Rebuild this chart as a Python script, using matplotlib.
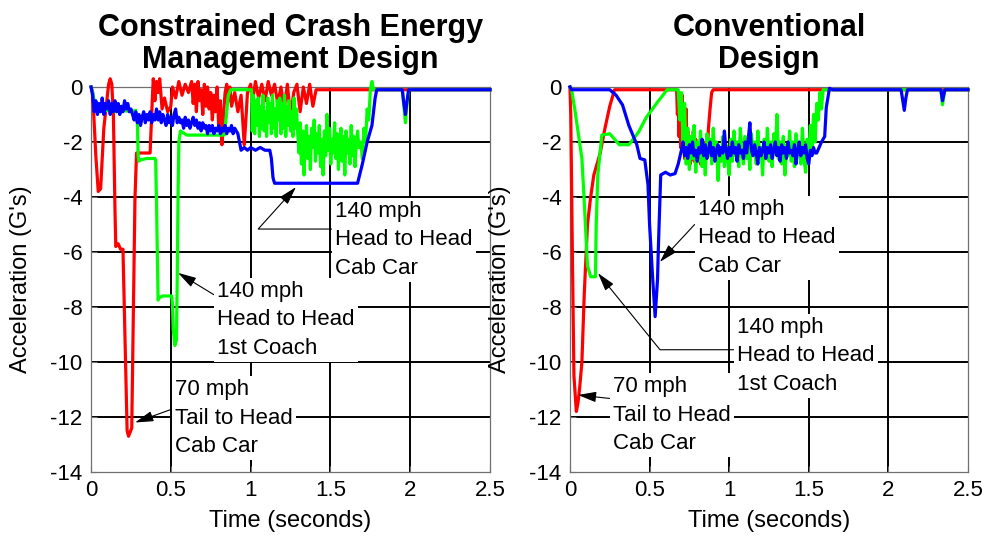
import matplotlib
matplotlib.use("Agg")
import matplotlib.pyplot as plt

plt.rcParams['font.family'] = ['Liberation Sans', 'DejaVu Sans']
plt.rcParams['axes.unicode_minus'] = False

# ---- data: (time s, acceleration G) ----
x_ticks = [0, 0.5, 1, 1.5, 2, 2.5]
x_tick_labels = ["0", "0.5", "1", "1.5", "2", "2.5"]
y_ticks = [0, -2, -4, -6, -8, -10, -12, -14]

# Constrained crash energy management design
cem_red_70 = [
    (0, 0), (0.01, -0.2), (0.03, -2.5), (0.045, -3.8), (0.06, -3.7), (0.08, -1.5),
    (0.11, 0.1), (0.12, 0.3), (0.13, 0.1), (0.14, -1.0), (0.15, -4.5), (0.155, -5.8),
    (0.17, -5.7), (0.185, -5.9), (0.2, -5.9), (0.226, -12.5), (0.235, -12.7),
    (0.255, -12.4), (0.275, -4.1), (0.285, -2.4), (0.33, -2.4), (0.37, -2.4),
    (0.385, -0.3), (0.39, 0.3), (0.4, -0.5), (0.41, 0.2), (0.42, -0.2), (0.43, 0.3),
    (0.445, -0.8), (0.46, -0.4), (0.48, -0.9), (0.5, -0.7), (0.51, 0.0), (0.53, -0.4),
    (0.55, 0.2), (0.57, -0.3), (0.59, 0.1), (0.61, -0.2), (0.63, 0.2), (0.64, -0.6),
    (0.65, 0.1), (0.66, -0.9), (0.67, 0.2), (0.68, -0.5), (0.69, -0.1), (0.70, -1.0),
    (0.71, 0.1), (0.72, -0.7), (0.73, 0.0), (0.74, -0.8), (0.75, -0.2), (0.76, -1.2),
    (0.77, -0.3), (0.78, -0.9), (0.79, 0.0), (0.80, -1.5), (0.81, -0.5), (0.82, -2.1),
    (0.83, -1.0), (0.84, -0.2), (0.85, 0.1), (0.86, -0.5), (0.87, 0.0), (0.88, -0.7),
    (0.9, -0.2), (0.92, -0.9), (0.94, -0.3), (0.96, -2.1), (0.97, -1.2), (0.98, -0.2),
    (1.0, 0.1), (1.01, -0.6), (1.03, 0.2), (1.05, -0.4), (1.07, 0.1), (1.09, -0.5),
    (1.11, 0.2), (1.13, -0.3), (1.15, 0.1), (1.17, -0.6), (1.19, 0.0), (1.21, -0.8),
    (1.23, 0.1), (1.25, -1.1), (1.27, -0.2), (1.29, 0.1), (1.31, -0.9), (1.33, 0.0),
    (1.35, -0.6), (1.37, 0.1), (1.39, -0.7), (1.41, -0.1), (1.43, -0.1), (2.5, -0.1),
]
cem_green_140 = [
    (0, 0), (0.01, -0.2), (0.03, -0.8), (0.05, -0.9), (0.1, -0.85), (0.15, -0.9),
    (0.2, -0.85), (0.25, -0.9), (0.28, -0.85), (0.29, -1.2), (0.295, -2.5), (0.3, -2.7),
    (0.31, -2.65), (0.35, -2.6), (0.4, -2.6), (0.405, -2.65), (0.41, -4.2), (0.42, -7.75),
    (0.43, -7.65), (0.45, -7.6), (0.48, -7.6), (0.505, -7.6), (0.51, -7.9), (0.515, -8.8),
    (0.525, -9.4), (0.535, -9.2), (0.54, -7.0), (0.545, -4.0), (0.55, -2.0), (0.56, -1.6),
    (0.6, -1.75), (0.7, -1.75), (0.8, -1.75), (0.835, -1.75), (0.845, -1.2), (0.86, -0.3),
    (0.875, -0.1), (0.95, -0.1), (1.005, -0.1),
    (1.010, -1.6), (1.017, -0.3), (1.025, -1.7), (1.032, -0.5), (1.040, -1.4), (1.047, -0.4),
    (1.055, -1.8), (1.062, -0.7), (1.070, -1.5), (1.077, -0.3), (1.085, -1.6), (1.092, -0.9),
    (1.100, -1.8), (1.107, -0.4), (1.115, -1.3), (1.122, -0.6), (1.130, -1.7), (1.137, -0.3),
    (1.145, -1.5), (1.152, -0.8), (1.160, -1.8), (1.167, -0.5), (1.175, -1.2), (1.182, -0.4),
    (1.190, -1.7), (1.197, -0.6), (1.205, -1.5), (1.212, -0.3), (1.220, -1.8), (1.227, -0.7),
    (1.235, -1.4), (1.242, -0.5), (1.250, -1.6), (1.257, -0.9), (1.265, -1.8), (1.272, -0.4),
    (1.280, -1.5), (1.287, -0.8), (1.295, -1.7),
    (1.303, -2.4), (1.310, -1.3), (1.318, -2.8), (1.326, -1.6), (1.334, -3.2), (1.342, -2.0),
    (1.350, -1.4), (1.358, -2.6), (1.366, -1.8), (1.374, -3.0), (1.382, -1.5), (1.390, -2.2),
    (1.398, -1.2), (1.406, -2.7), (1.414, -1.7), (1.422, -2.4), (1.430, -1.4), (1.438, -2.9),
    (1.446, -1.9), (1.454, -3.2), (1.462, -1.6), (1.470, -2.5), (1.478, -1.0), (1.486, -2.3),
    (1.494, -1.5), (1.502, -2.8), (1.510, -1.9), (1.518, -2.4), (1.526, -1.3), (1.534, -2.6),
    (1.542, -1.7), (1.550, -3.0), (1.558, -2.0), (1.566, -1.5), (1.574, -2.7), (1.582, -1.8),
    (1.590, -3.2), (1.598, -1.6), (1.606, -2.4), (1.614, -1.9), (1.622, -2.8), (1.630, -1.4),
    (1.638, -2.5), (1.646, -1.8), (1.654, -2.9), (1.662, -2.0), (1.670, -1.6), (1.678, -2.2),
    (1.69, -2.0), (1.70, -2.6), (1.71, -1.5), (1.72, -2.0), (1.73, -0.8), (1.74, -1.2),
    (1.75, -0.1), (1.76, 0.2), (1.77, -0.1), (1.95, -0.1), (1.96, -0.7), (1.97, -1.3),
    (1.98, -0.6), (1.99, -0.1), (2.5, -0.1),
]
cem_blue_140 = [
    (0, 0), (0.01, -0.3), (0.02, -0.9), (0.03, -0.5), (0.04, -1.0), (0.05, -0.6),
    (0.06, -0.9), (0.07, -0.4), (0.08, -1.0), (0.09, -0.6), (0.1, -0.8), (0.11, -0.5),
    (0.12, -1.0), (0.13, -0.6), (0.14, -0.9), (0.15, -0.5), (0.16, -0.9), (0.17, -0.6),
    (0.18, -1.0), (0.19, -0.7), (0.2, -0.9), (0.21, -0.5), (0.22, -0.8), (0.23, -0.6),
    (0.24, -0.9), (0.25, -0.8), (0.26, -1.0), (0.27, -1.2), (0.28, -0.9), (0.29, -1.3),
    (0.3, -1.0), (0.31, -1.4), (0.32, -1.1), (0.33, -0.9), (0.34, -1.3), (0.35, -1.0),
    (0.36, -1.2), (0.37, -0.9), (0.38, -1.3), (0.39, -1.0), (0.4, -1.2), (0.41, -0.8),
    (0.42, -1.2), (0.43, -0.9), (0.44, -1.3), (0.45, -1.0), (0.46, -1.2), (0.47, -1.4),
    (0.48, -1.0), (0.49, -1.3), (0.5, -1.1), (0.51, -1.4), (0.52, -1.0), (0.53, -0.8),
    (0.54, -1.3), (0.55, -1.1), (0.56, -1.3), (0.57, -1.2), (0.58, -1.5), (0.59, -1.1),
    (0.6, -1.4), (0.61, -1.2), (0.62, -1.5), (0.63, -1.3), (0.64, -1.1), (0.65, -1.4),
    (0.66, -1.2), (0.67, -1.5), (0.68, -1.3), (0.69, -1.6), (0.7, -1.3), (0.71, -1.5),
    (0.72, -1.4), (0.73, -1.7), (0.74, -1.4), (0.75, -1.6), (0.76, -1.4), (0.77, -1.7),
    (0.78, -1.5), (0.79, -1.6), (0.8, -1.4), (0.81, -1.7), (0.82, -1.5), (0.83, -1.6),
    (0.84, -1.4), (0.85, -1.7), (0.86, -1.5), (0.87, -1.6), (0.88, -1.4), (0.89, -1.7),
    (0.9, -1.5), (0.92, -1.7), (0.93, -2.0), (0.94, -2.3), (0.96, -2.2), (0.98, -2.3),
    (1.0, -2.2), (1.03, -2.3), (1.06, -2.2), (1.09, -2.3), (1.12, -2.3), (1.13, -2.6),
    (1.14, -3.3), (1.15, -3.5), (1.4, -3.5), (1.67, -3.5), (1.7, -2.8), (1.73, -2.0),
    (1.76, -1.4), (1.78, -0.4), (1.79, -0.1), (1.95, -0.1), (1.96, -0.6), (1.97, -1.0),
    (1.98, -0.5), (1.99, -0.1), (2.5, -0.1),
]

# Conventional design
conv_red_70 = [
    (0, 0), (0.005, -1.0), (0.015, -6.0), (0.025, -10.5), (0.04, -11.8), (0.05, -11.5),
    (0.06, -11.0), (0.075, -10.0), (0.09, -7.5), (0.11, -5.0), (0.13, -4.0), (0.15, -3.2),
    (0.19, -2.4), (0.22, -1.5), (0.25, -0.7), (0.28, -0.1), (0.67, -0.1), (0.675, -1.0),
    (0.68, -0.2), (0.685, -1.8), (0.69, -0.6), (0.695, -2.2), (0.70, -1.0), (0.705, -0.3),
    (0.71, -2.0), (0.715, -1.2), (0.72, -2.6), (0.725, -1.5), (0.73, -0.8), (0.735, -2.2),
    (0.74, -1.6), (0.745, -2.5), (0.75, -1.8), (0.755, -2.8), (0.76, -2.0), (0.77, -2.4),
    (0.775, -1.6), (0.78, -2.7), (0.79, -1.9), (0.80, -2.5), (0.81, -2.1), (0.82, -2.8),
    (0.825, -2.0), (0.83, -2.6), (0.84, -2.3), (0.85, -2.0), (0.86, -2.6), (0.87, -1.5),
    (0.88, -0.8), (0.89, -0.2), (0.9, -0.1), (2.5, -0.1),
]
conv_green_140 = [
    (0, 0), (0.01, -0.1), (0.03, -0.8), (0.06, -2.0), (0.075, -2.6), (0.09, -4.2),
    (0.11, -6.5), (0.13, -6.9), (0.16, -6.9), (0.165, -5.0), (0.175, -3.2), (0.2, -1.75),
    (0.25, -1.7), (0.31, -2.1), (0.37, -2.1), (0.43, -1.65), (0.48, -1.1), (0.55, -0.55),
    (0.61, -0.1), (0.68, -0.1),
    (0.69, -1.2), (0.70, -0.2), (0.71, -2.0), (0.72, -0.6), (0.73, -2.8), (0.74, -1.5),
    (0.75, -3.0), (0.76, -1.8), (0.77, -2.6), (0.78, -1.4), (0.79, -3.1), (0.80, -2.0),
    (0.81, -2.7), (0.82, -1.6), (0.83, -2.9), (0.84, -2.1), (0.85, -3.2), (0.86, -1.7),
    (0.87, -2.5), (0.88, -1.9), (0.89, -2.8), (0.90, -1.5), (0.91, -2.6), (0.92, -2.0),
    (0.93, -3.4), (0.94, -2.2), (0.95, -2.7), (0.96, -1.8), (0.97, -2.9), (0.98, -2.1),
    (0.99, -2.6), (1.00, -3.2), (1.01, -1.9), (1.02, -2.7), (1.03, -1.6), (1.04, -2.5),
    (1.05, -2.0), (1.06, -2.9), (1.07, -1.5), (1.08, -2.4), (1.09, -2.8), (1.10, -1.8),
    (1.11, -2.6), (1.12, -2.1), (1.13, -3.0), (1.14, -1.7), (1.15, -2.5), (1.16, -2.0),
    (1.17, -2.8), (1.18, -1.6), (1.19, -2.4), (1.20, -2.2), (1.21, -3.2), (1.22, -1.9),
    (1.23, -2.6), (1.24, -1.5), (1.25, -2.7), (1.26, -2.0), (1.27, -2.9), (1.28, -1.7),
    (1.29, -2.4), (1.30, -1.0), (1.31, -2.6), (1.32, -2.0), (1.33, -2.8), (1.34, -1.8),
    (1.35, -3.2), (1.36, -2.1), (1.37, -2.5), (1.38, -1.6), (1.39, -2.7), (1.40, -2.0),
    (1.41, -2.9), (1.42, -1.7), (1.43, -2.4), (1.44, -2.1), (1.45, -2.8), (1.46, -1.5),
    (1.47, -2.6), (1.48, -3.1), (1.49, -1.9), (1.50, -2.5), (1.51, -1.4), (1.52, -2.2),
    (1.53, -1.0), (1.54, -2.0), (1.55, -0.6), (1.56, -1.2), (1.57, -0.2), (1.58, -0.8),
    (1.59, -0.1), (2.33, -0.1), (2.34, -0.65), (2.355, -0.1), (2.5, -0.1),
]
conv_blue_140 = [
    (0, 0), (0.01, -0.1), (0.25, -0.1), (0.29, -0.3), (0.33, -0.65), (0.37, -1.4),
    (0.42, -2.1), (0.44, -2.6), (0.47, -2.65), (0.49, -3.55), (0.5, -5.0), (0.52, -7.0),
    (0.535, -8.35), (0.55, -7.0), (0.555, -5.9), (0.565, -4.1), (0.57, -3.2), (0.6, -3.1),
    (0.63, -3.2), (0.66, -3.15), (0.68, -2.8),
    (0.70, -2.3), (0.71, -2.0), (0.72, -2.5), (0.73, -2.2), (0.74, -2.6), (0.75, -2.1),
    (0.76, -2.4), (0.77, -2.0), (0.78, -2.5), (0.79, -2.3), (0.80, -2.7), (0.81, -2.2),
    (0.82, -2.4), (0.83, -1.9), (0.84, -2.5), (0.85, -2.1), (0.86, -2.6), (0.87, -2.3),
    (0.88, -2.0), (0.89, -2.5), (0.90, -2.2), (0.91, -2.7), (0.92, -2.3), (0.93, -2.1),
    (0.94, -2.5), (0.95, -2.2), (0.96, -2.4), (0.97, -1.6), (0.98, -2.3), (0.99, -2.6),
    (1.00, -2.2), (1.01, -2.5), (1.02, -2.0), (1.03, -2.4), (1.04, -2.2), (1.05, -2.7),
    (1.06, -2.1), (1.07, -2.4), (1.08, -2.3), (1.09, -2.6), (1.10, -2.0), (1.11, -2.4),
    (1.12, -1.9), (1.13, -1.3), (1.14, -2.3), (1.15, -2.5), (1.16, -2.1), (1.17, -2.4),
    (1.18, -2.8), (1.19, -2.2), (1.20, -2.5), (1.21, -2.3), (1.22, -2.0), (1.23, -2.6),
    (1.24, -2.2), (1.25, -2.4), (1.26, -2.1), (1.27, -2.6), (1.28, -2.3), (1.29, -2.0),
    (1.30, -2.5), (1.31, -2.2), (1.32, -2.7), (1.33, -2.1), (1.34, -2.4), (1.35, -2.2),
    (1.36, -2.6), (1.37, -2.0), (1.38, -2.4), (1.39, -2.3), (1.40, -2.5), (1.41, -2.1),
    (1.42, -2.8), (1.43, -2.3), (1.44, -2.0), (1.45, -2.5), (1.46, -2.2), (1.47, -2.4),
    (1.48, -2.1), (1.49, -2.6), (1.50, -2.8), (1.51, -2.3), (1.52, -2.5), (1.53, -2.2),
    (1.54, -2.4), (1.55, -2.4), (1.58, -2.0), (1.60, -1.8), (1.61, -0.75), (1.63, -0.05),
    (1.65, -0.1), (2.08, -0.1), (2.1, -0.85), (2.11, -0.4), (2.12, -0.1), (2.33, -0.1),
    (2.34, -0.5), (2.355, -0.1), (2.5, -0.1),
]

# annotation texts, label anchor (left, middle line), arrow tip, start height on box
cem_notes = [
    ("140 mph\nHead to Head\nCab Car", (1.53, -5.56), (1.284, -3.64), 0.64, 48),
    ("140 mph\nHead to Head\n1st Coach", (0.79, -8.47), (0.545, -6.76), 0.8, None),
    ("70 mph\nTail to Head\nCab Car", (0.526, -12.04), (0.276, -12.2), 0.63, None),
]
conv_notes = [
    ("140 mph\nHead to Head\nCab Car", (0.804, -5.49), (0.565, -6.36), 0.72, None),
    ("140 mph\nHead to Head\n1st Coach", (1.049, -9.78), (0.176, -6.77), 0.58, 129),
    ("70 mph\nTail to Head\nCab Car", (0.27, -11.93), (0.05, -11.2), 0.71, None),
]


def draw_panel(ax, title, red, green, blue, notes):
    for series, col in ((red, '#ff0000'), (green, '#00ff00'), (blue, '#0000ff')):
        t, g = zip(*series)
        ax.plot(t, g, color=col, lw=2.3, clip_on=False, zorder=3)

    ax.set_xlim(0, 2.5)
    ax.set_ylim(-14, 0)
    ax.set_xticks(x_ticks)
    ax.set_xticklabels(x_tick_labels)
    ax.set_yticks(y_ticks)
    ax.tick_params(labelsize=16, direction='in', length=4, color='#707070', pad=6)
    ax.grid(True, color='black', lw=1.4)
    ax.set_axisbelow(True)
    # no black grid line on the outer frame except at 0 g
    for gl, v in zip(ax.xaxis.get_gridlines(), x_ticks):
        if v in (0, 2.5):
            gl.set_visible(False)
    for gl, v in zip(ax.yaxis.get_gridlines(), y_ticks):
        if v == -14:
            gl.set_visible(False)
    for sp in ax.spines.values():
        sp.set_color('#707070')
        sp.set_linewidth(0.9)

    ax.set_title(title, fontsize=22, fontweight='bold', linespacing=1.05, pad=14)
    ax.set_xlabel("Time (seconds)", fontsize=17, labelpad=6)
    ax.set_ylabel("Acceleration (G's)", fontsize=17, labelpad=13)

    for txt, pos, tip, rel, ang in notes:
        props = dict(arrowstyle='-|>,head_length=0.7,head_width=0.2', color='black',
                     lw=0.8, shrinkA=0, shrinkB=0, relpos=(0, rel))
        if ang is not None:
            props['connectionstyle'] = 'angle,angleA=0,angleB=%d,rad=0' % ang
        ax.annotate(txt, xy=tip, xytext=pos, ha='left', va='center', fontsize=16,
                    linespacing=1.45, zorder=5, arrowprops=props,
                    bbox=dict(boxstyle='square,pad=0.15', fc='white', ec='none'))


fig = plt.figure(figsize=(9.94, 5.35), dpi=100)
ax1 = fig.add_axes([0.0916, 0.1178, 0.4014, 0.7196])
ax2 = fig.add_axes([0.5734, 0.1178, 0.4004, 0.7196])

draw_panel(ax1, "Constrained Crash Energy\nManagement Design",
           cem_red_70, cem_green_140, cem_blue_140, cem_notes)
draw_panel(ax2, "Conventional\nDesign",
           conv_red_70, conv_green_140, conv_blue_140, conv_notes)

fig.savefig("out.png", dpi=100)
